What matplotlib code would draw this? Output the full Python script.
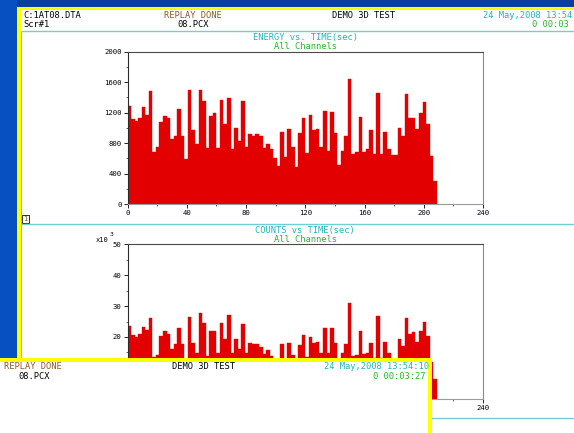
import numpy as np
import matplotlib
matplotlib.use('Agg')
import matplotlib.pyplot as plt
from matplotlib.patches import Rectangle
from matplotlib.ticker import MultipleLocator

# ---------------- data ----------------
energy = [1290, 1120, 1090, 1130, 1275, 1170, 1480, 690, 755, 1080,
          1160, 1125, 853, 900, 1250, 900, 599, 1490, 970, 787,
          1500, 1350, 743, 1150, 1200, 743, 1369, 1054, 1395, 730,
          1005, 835, 1350, 752, 923, 900, 923, 900, 743, 795,
          726, 604, 507, 949, 617, 984, 756, 494, 932, 1128,
          673, 1163, 975, 992, 756, 1220, 695, 1207, 927, 516,
          695, 896, 1640, 656, 682, 1137, 690, 726, 971, 656,
          1452, 656, 940, 726, 643, 643, 1005, 900, 1448, 1128,
          1135, 988, 1189, 1339, 1054, 637, 306]
counts_k = [23.5, 20.6, 20.1, 21.0, 23.2, 22.1, 26.1, 13.5, 14.1, 20.2,
            21.9, 20.8, 16.2, 17.7, 23.0, 17.7, 11.5, 26.5, 18.0, 14.7,
            27.7, 24.4, 13.9, 21.9, 21.9, 14.7, 24.5, 19.4, 27.0, 14.7,
            19.4, 16.2, 24.2, 14.7, 17.9, 17.7, 17.7, 16.8, 14.5, 15.7,
            13.9, 11.8, 9.8, 17.7, 12.0, 17.9, 14.0, 9.5, 17.3, 20.5,
            13.5, 20.1, 17.9, 18.4, 14.9, 22.9, 14.7, 22.9, 18.1, 10.0,
            14.7, 17.7, 30.9, 13.7, 14.1, 21.9, 14.6, 14.9, 18.0, 13.3,
            26.8, 13.3, 18.2, 14.9, 12.2, 12.2, 19.4, 17.1, 26.0, 21.0,
            21.7, 18.4, 21.9, 24.7, 20.3, 12.0, 6.4]
bin_width = 2.4
x_ticks = [0, 40, 80, 120, 160, 200, 240]
energy_ticks = [0, 400, 800, 1200, 1600, 2000]
counts_ticks = [0, 10, 20, 30, 40, 50]

hdr_file = "C:1AT08.DTA"
hdr_scr = "Scr#1"
hdr_status = "REPLAY DONE"
hdr_pcx = "08.PCX"
hdr_title = "DEMO 3D TEST"
hdr_date = "24 May,2008 13:54:10"
hdr_elapsed = "0 00:03:27"
hdr_date_main = "24 May,2008 13:54"   # part visible in the main window
hdr_elapsed_main = "0 00:03"
title1 = "ENERGY vs. TIME(sec)"
title2 = "COUNTS vs TIME(sec)"
subtitle = "All Channels"

# ---------------- style ----------------
W, H = 574, 433
MONO = 'DejaVu Sans Mono'
RED = '#e30000'
CYAN_T = '#22b5b8'
GREEN_T = '#2cb52c'
BROWN_T = '#8a5a28'
CYAN_L = '#6fd0d0'
FS = 6.3
TFS = 5.2

fig = plt.figure(figsize=(W / 100, H / 100), dpi=100)

def fy(y):
    return 1 - y / H

# background (pixel coords)
bg = fig.add_axes([0, 0, 1, 1], zorder=0)
bg.set_xlim(0, W)
bg.set_ylim(H, 0)
bg.axis('off')
bg.add_patch(Rectangle((0, 0), W, H, color='#0650c2', lw=0))
bg.add_patch(Rectangle((17, 0), W, 6.8, color='#0a3f9e', lw=0))
bg.add_patch(Rectangle((17, 6.8), W, H, color='#ffff00', lw=0))
bg.add_patch(Rectangle((20.5, 9.6), W, H, color='white', lw=0))
bg.plot([21, W], [31, 31], color=CYAN_L, lw=1.0, solid_capstyle='butt')
bg.plot([21.2, 21.2], [31, H], color=CYAN_L, lw=0.8, solid_capstyle='butt')
bg.plot([21, W], [223.5, 223.5], color=CYAN_L, lw=1.0, solid_capstyle='butt')
bg.plot([431, W], [418, 418], color=CYAN_L, lw=1.0, solid_capstyle='butt')


def header(ax, dx, dy, date_txt, elapsed_txt, show_left=True):
    kw = dict(fontsize=FS, family=MONO, va='center', ha='left')
    if show_left:
        ax.text(23 + dx, 15.3 + dy, hdr_file, color='black', **kw)
        ax.text(23 + dx, 24.6 + dy, hdr_scr, color='black', **kw)
    ax.text(163.7 + dx, 15.3 + dy, hdr_status, color=BROWN_T, **kw)
    ax.text(177.6 + dx, 24.6 + dy, hdr_pcx, color='black', **kw)
    ax.text(331.5 + dx, 15.3 + dy, hdr_title, color='black', **kw)
    ax.text(482.8 + dx, 15.3 + dy, date_txt, color=CYAN_T, **kw)
    ax.text(532 + dx, 24.6 + dy, elapsed_txt, color=GREEN_T, **kw)

header(bg, 0, 0, hdr_date_main, hdr_elapsed_main)

ckw = dict(fontsize=FS, family=MONO, va='center', ha='center')
bg.text(305.3, 37.5, title1, color=CYAN_T, **ckw)
bg.text(305.3, 46.6, subtitle, color=GREEN_T, **ckw)
bg.text(305.3, 230.2, title2, color=CYAN_T, **ckw)
bg.text(305.3, 240.0, subtitle, color=GREEN_T, **ckw)
bg.text(108.6, 239.7, "x10", fontsize=5.0, family=MONO, va='center', ha='right', color='black')
bg.text(109.2, 234.8, "3", fontsize=4.6, family=MONO, va='center', ha='left', color='black')

# little box "1"
bg.add_patch(Rectangle((21.8, 215.2), 7.2, 8.0, facecolor='white', edgecolor='#3a2a10', lw=0.7))
bg.text(25.4, 219.3, "1", fontsize=5.0, family=MONO, va='center', ha='center', color=BROWN_T)


def style_axes(ax, yticks, yminor):
    ax.set_facecolor('white')
    ax.set_xlim(0, 240)
    ax.set_xticks(x_ticks)
    ax.xaxis.set_minor_locator(MultipleLocator(20))
    ax.set_yticks(yticks)
    ax.yaxis.set_minor_locator(MultipleLocator(yminor))
    ax.spines['left'].set_color('#2a2a2a')
    ax.spines['top'].set_color('#4a4a4a')
    ax.spines['right'].set_color('#8a8a8a')
    ax.spines['bottom'].set_color('#9a9a9a')
    for s in ax.spines.values():
        s.set_linewidth(0.8)
    ax.tick_params(axis='both', which='major', direction='out', length=2.6, width=0.7,
                   color='#222222', labelsize=TFS, pad=1.6)
    ax.tick_params(axis='both', which='minor', direction='out', length=1.5, width=0.6,
                   color='#444444')
    for lab in ax.get_xticklabels() + ax.get_yticklabels():
        lab.set_family(MONO)


left_px, right_px = 127.5, 483.0
edges = np.arange(len(energy)) * bin_width

ax1 = fig.add_axes([left_px / W, fy(204.3), (right_px - left_px) / W, (204.3 - 51.5) / H], zorder=1)
ax1.bar(edges, energy, width=bin_width, align='edge', color=RED, edgecolor=RED, linewidth=0.3)
ax1.set_ylim(0, 2000)
style_axes(ax1, energy_ticks, 200)
ax1.set_yticklabels([str(v) for v in energy_ticks])

ax2 = fig.add_axes([left_px / W, fy(398.7), (right_px - left_px) / W, (398.7 - 244.3) / H], zorder=1)
ax2.bar(edges, counts_k, width=bin_width, align='edge', color=RED, edgecolor=RED, linewidth=0.3)
ax2.set_ylim(0, 50)
style_axes(ax2, counts_ticks, 5)

# overlay window (shifted copy of the header)
ov = fig.add_axes([0, 0, 1, 1], zorder=3)
ov.set_xlim(0, W)
ov.set_ylim(H, 0)
ov.axis('off')
ov.patch.set_alpha(0)
ov.add_patch(Rectangle((0, 358.3), 431.7, H, color='#ffff00', lw=0))
ov.add_patch(Rectangle((0, 361.5), 427.7, H, color='white', lw=0))
header(ov, -159.2, 351.5, hdr_date, hdr_elapsed, show_left=False)

fig.savefig('out.png', dpi=100)
